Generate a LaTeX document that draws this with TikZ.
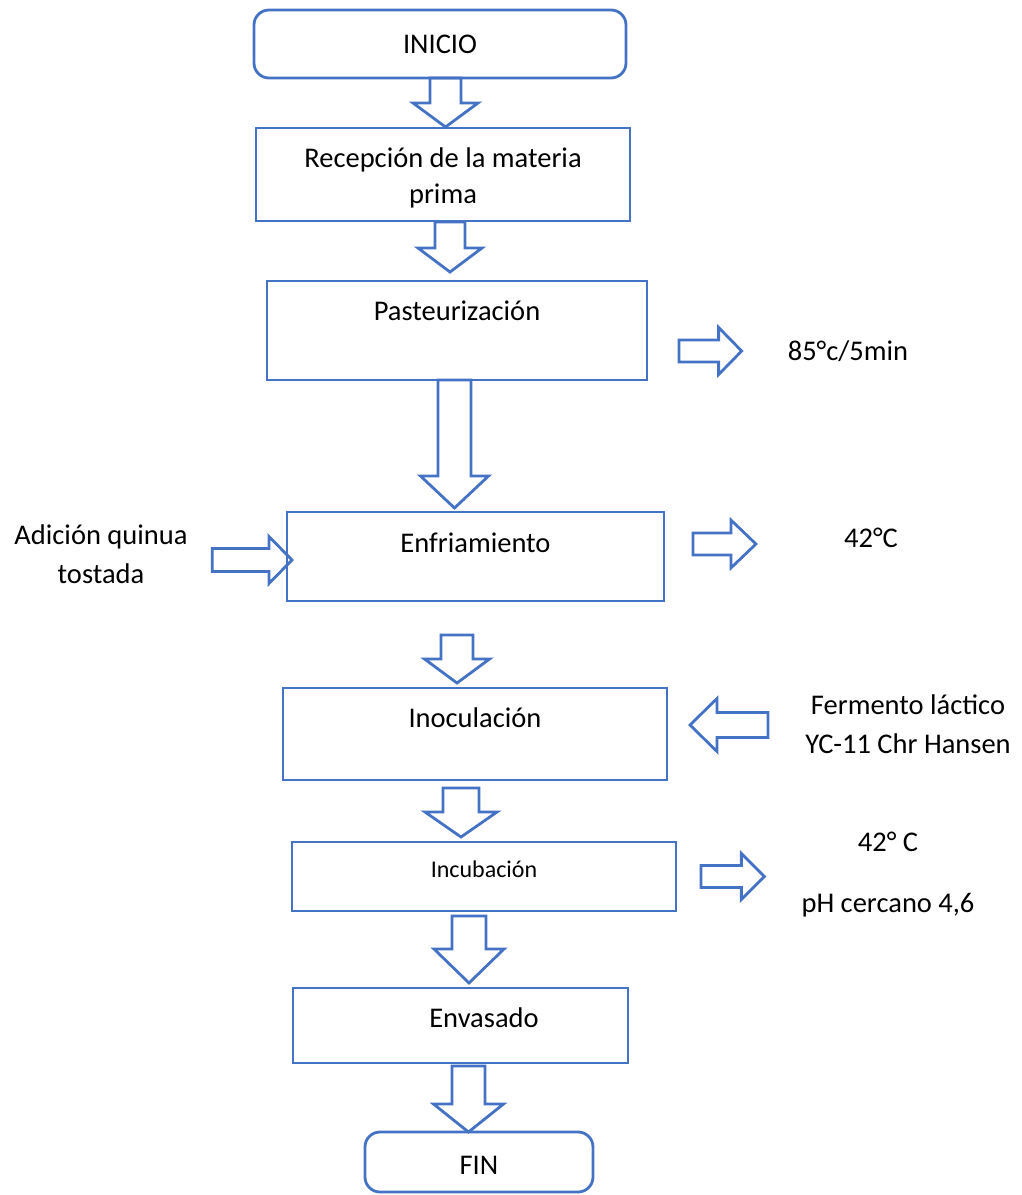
\documentclass[tikz,border=0pt]{standalone}
\usepackage{fontspec}
\setmainfont{Carlito}
\usetikzlibrary{calc}

\definecolor{flowblue}{HTML}{4472C4}
\newcommand{\mainsize}{\fontsize{28.5}{36}\selectfont}
\newcommand{\notesize}{\fontsize{28.5}{38.5}\selectfont}
\newcommand{\smallsize}{\fontsize{24}{29}\selectfont}

\tikzset{
  stepbox/.style={draw=flowblue, line width=2.8pt, anchor=north west, inner ysep=0pt, outer sep=0pt, align=center, font=\mainsize},
  endbox/.style={stepbox, rounded corners=15pt},
  note/.style={anchor=base, align=center, inner sep=0pt, font=\notesize},
  blockarrow/.style={draw=flowblue, line width=2.8pt, line join=miter},
}

% block arrow pointing down: start, tip, shaft half width, head half width, head length
\newcommand{\arrowdown}[5]{%
  \draw[blockarrow] let \p1=(#1), \p2=(#2) in
    ({\x1-#3},\y1) -- ({\x1-#3},{\y2+#5}) -- ({\x1-#4},{\y2+#5}) -- (\x1,\y2)
    -- ({\x1+#4},{\y2+#5}) -- ({\x1+#3},{\y2+#5}) -- ({\x1+#3},\y1) -- cycle;}
% block arrow sideways (negative head length points left)
\newcommand{\arrowside}[5]{%
  \draw[blockarrow] let \p1=(#1), \p2=(#2) in
    (\x1,{\y1-#3}) -- ({\x2-(#5)},{\y1-#3}) -- ({\x2-(#5)},{\y1-#4}) -- (\x2,\y1)
    -- ({\x2-(#5)},{\y1+#4}) -- ({\x2-(#5)},{\y1+#3}) -- (\x1,{\y1+#3}) -- cycle;}

\begin{document}
\begin{tikzpicture}[x=1pt, y=-1pt]
    \useasboundingbox (0,0) rectangle (1021,1195);

    % Steps of the process
    \node[endbox, minimum width=372pt, text height=43pt, text depth=25pt] (inicio) at (254,10) {INICIO};
    \node[stepbox, minimum width=374pt, text height=75pt, text depth=18pt] (recep) at (256,128) {Recepción de la materia\\prima};
    \node[stepbox, minimum width=380pt, text height=39pt, text depth=60pt] (paste) at (267,281) {Pasteurización};
    \node[stepbox, minimum width=377pt, text height=40pt, text depth=49pt] (enfr) at (287,512) {Enfriamiento};
    \node[stepbox, minimum width=384pt, text height=39pt, text depth=53pt] (inoc) at (283,688) {Inoculación};
    \node[stepbox, minimum width=384pt, text height=35pt, text depth=34pt, font=\smallsize] (incub) at (292,842) {Incubación};
    \node[stepbox, minimum width=335pt, text height=39pt, text depth=36pt] (envas) at (293,988) {\hspace*{47pt}Envasado};
    \node[endbox, minimum width=228pt, text height=42pt, text depth=18pt] (fin) at (365,1132) {FIN};

    % Side notes
    \node[note] (t85) at (848,360) {85°c/5min};
    \node[note] (t42) at (871,547) {42°C};
    \node[note] (tquinua) at (101,583) {Adición quinua\\tostada};
    \node[note] (tferm) at (908,753) {Fermento láctico\\YC-11 Chr Hansen};
    \node[note] (tincub) at (888,912) {42° C\\[22.5pt]pH cercano 4,6};

    % Main flow
    \arrowdown{[xshift=5.5pt]inicio.south}{[yshift=1pt]recep.north}{15.5pt}{32.5pt}{24pt}
    \arrowdown{[xshift=7pt,yshift=-1pt]recep.south}{[yshift=9pt]paste.north}{15pt}{32pt}{24pt}
    \arrowdown{[xshift=-2.5pt]paste.south}{[yshift=4pt]enfr.north}{16.5pt}{34pt}{32pt}
    \arrowdown{[xshift=-18.5pt,yshift=-34pt]enfr.south}{[yshift=5pt]inoc.north}{16pt}{32.5pt}{24pt}
    \arrowdown{[xshift=-14pt,yshift=-8pt]inoc.south}{[yshift=5pt]incub.north}{18pt}{36pt}{25pt}
    \arrowdown{[xshift=-15pt,yshift=-5pt]incub.south}{[yshift=5pt]envas.north}{17pt}{35pt}{34pt}
    \arrowdown{[xshift=8pt,yshift=-3pt]envas.south}{fin.north}{16.5pt}{35pt}{28pt}

    % Side arrows
    \arrowside{[xshift=32pt,yshift=-20.5pt]paste.east}{[xshift=-46pt]t85.west}{11pt}{23.5pt}{23pt}
    \arrowside{[xshift=29pt,yshift=12.5pt]enfr.east}{[xshift=-88pt]t42.west}{11pt}{24pt}{25pt}
    \arrowside{[xshift=24.5pt,yshift=-3.5pt]tquinua.east |- enfr.west}{[xshift=5pt]enfr.west}{11.5pt}{23.5pt}{23pt}
    \arrowside{[xshift=-37pt,yshift=9pt]tferm.west |- inoc.east}{[xshift=23pt]inoc.east}{12.5pt}{26.5pt}{-27pt}
    \arrowside{[xshift=25pt]incub.east}{[xshift=-37pt]tincub.west}{11pt}{23pt}{23pt}
\end{tikzpicture}
\end{document}
